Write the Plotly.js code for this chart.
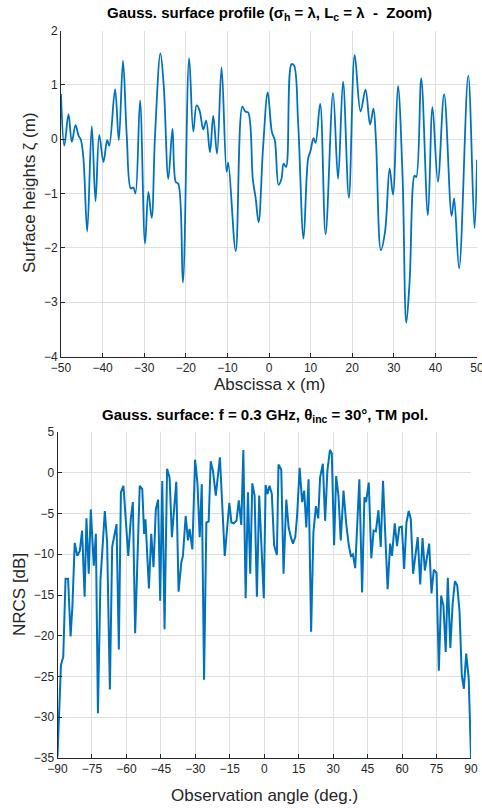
<!DOCTYPE html>
<html>
<head>
<meta charset="utf-8">
<script src="https://cdn.plot.ly/plotly-3.0.1.min.js"></script>
<style>html,body{margin:0;padding:0;background:#fff;}#chart{width:482px;height:808px;}</style>
</head>
<body>
<div id="chart"></div>
<script>
// ---- Top panel: surface profile ----
const profX = [-50, -49.2, -48.2, -47.4, -46.5, -45.8, -45.2, -44.6, -43.7, -42.6,
  -41.7, -40.8, -39.8, -38.9, -38.4, -37.0, -36.1, -35.1, -34.2, -33.2,
  -32.6, -32.1, -31.0, -29.8, -29.0, -28.2, -27.4, -26.1, -25.3, -24.2,
  -23.2, -22.4, -21.8, -20.7, -19.2, -18.2, -17.4, -16.7, -15.8, -15.1,
  -14.2, -13.4, -12.5, -11.4, -10.2, -9.8, -8.0, -6.4, -5.7, -5.0,
  -3.9, -3.2, -2.5, -1.4, -0.3, 0.7, 1.4, 2.3, 3.0, 3.5,
  4.1, 5.4, 6.0, 7.0, 8.3, 9.4, 10.0, 10.7, 11.2, 12.3,
  13.6, 15.4, 16.6, 17.8, 19.2, 20.6, 22.0, 23.2, 24.3, 25.1,
  25.7, 26.9, 27.9, 29.0, 29.8, 31.0, 32.1, 33.0, 33.8, 35.0,
  35.4, 36.6, 38.2, 39.3, 40.6, 42.1, 43.9, 44.5, 45.7, 47.9,
  49.4, 50];
const profH = [0.83, -0.12, 0.46, -0.05, 0.26, 0.07, -0.02, -0.36, -1.70, 0.24,
  -1.14, 0.08, -0.42, -0.02, -0.12, 0.92, -0.02, 1.44, 0.07, -0.91,
  -0.89, -1.00, 0.71, -1.92, -0.97, -1.45, 0.07, 1.58, 0.98, -0.73,
  0.19, -0.79, -0.82, -2.64, 1.49, 0.14, 0.62, 0.53, 0.18, 0.34,
  -0.24, 0.43, -0.27, 1.32, -0.60, -0.43, -2.06, 0.60, 0.51, 0.49,
  -0.73, -1.09, -1.53, -0.12, 0.86, 0.13, -0.02, -0.84, -0.73, -0.45,
  -0.51, 1.38, 1.36, 0.31, -1.83, -0.36, -0.21, 0.02, -0.07, 0.65,
  -1.75, 0.85, -0.73, 1.06, -1.08, 1.55, 0.51, 0.91, 0.27, 0.56,
  0.00, -2.04, -1.70, -0.54, -1.02, 0.98, -0.67, -3.38, -2.62, -0.67,
  -0.70, 1.12, -1.40, 0.59, -0.78, 0.83, -1.41, -1.09, -2.38, 1.17,
  -1.64, -0.38];
const profXTicks = [-50, -40, -30, -20, -10, 0, 10, 20, 30, 40, 50];
const profYTicks = [-4, -3, -2, -1, 0, 1, 2];

// ---- Bottom panel: NRCS ----
const angDeg = [-90, -89.4, -88.5, -87.5, -86.5, -85.4, -84.3, -83.5, -82.5, -81.4,
  -80.3, -79.3, -78.2, -77.4, -76.4, -75.5, -74.2, -73.3, -72.4, -71.3,
  -69.4, -68.4, -67.2, -66.2, -64.3, -63.3, -62.4, -61.3, -59.2, -58.1,
  -57.2, -56.2, -54.2, -53.1, -52.3, -51.7, -50.2, -49.2, -48.2, -47.2,
  -46.2, -45.3, -44.4, -43.4, -42.3, -41.2, -40.2, -38.3, -37.3, -36.1,
  -35.4, -34.2, -33.2, -32.5, -31.3, -30.1, -29.1, -28.1, -27.2, -26.2,
  -25.2, -24.2, -23.3, -22.3, -21.1, -19.3, -17.2, -15.2, -14.3, -13.3,
  -12.1, -11.1, -10.0, -9.1, -8.1, -7.1, -6.1, -5.2, -4.2, -3.2,
  -2.2, -0.2, 0.6, 1.4, 2.3, 3.3, 4.3, 5.5, 6.2, 7.4,
  8.4, 9.6, 10.6, 11.6, 12.5, 13.5, 14.3, 15.4, 16.5, 17.4,
  18.3, 19.3, 20.4, 21.4, 22.5, 23.5, 24.3, 25.5, 26.5, 27.5,
  28.6, 29.4, 30.4, 31.3, 32.3, 33.3, 34.5, 35.7, 36.8, 37.7,
  38.6, 39.6, 41.4, 42.6, 43.6, 44.3, 45.5, 46.6, 47.6, 48.6,
  49.7, 50.7, 51.7, 52.7, 53.7, 54.8, 55.6, 56.8, 57.8, 58.8,
  59.9, 60.9, 61.9, 62.9, 63.8, 64.8, 65.8, 66.8, 67.9, 68.9,
  69.9, 70.9, 71.8, 72.8, 73.8, 75.0, 76.0, 77.0, 78.0, 79.0,
  79.9, 81.0, 82.0, 83.0, 84.0, 85.0, 86.0, 86.9, 87.9, 89.0,
  90];
const nrcsDb = [-34.8, -29.7, -23.6, -22.6, -13.0, -13.0, -20.1, -16.3, -8.6, -10.2,
  -9.6, -7.1, -15.2, -5.6, -12.4, -4.5, -11.4, -7.5, -29.5, -13.2,
  -4.7, -8.5, -26.6, -9.1, -6.3, -21.7, -2.4, -1.6, -10.2, -5.7,
  -3.6, -19.7, -1.6, -2.0, -7.5, -5.7, -14.2, -7.5, -11.6, -4.5,
  -3.3, -15.7, -1.0, -19.2, 0.5, -0.6, -7.9, -1.1, -14.6, -11.0,
  -10.2, -5.3, -8.3, -6.9, -9.4, 1.6, -1.2, -7.9, -1.4, -25.4,
  -6.1, -6.0, 1.4, 0.2, -2.8, 1.9, -10.2, -3.7, -6.1, -6.2,
  -5.9, -3.4, -6.4, 2.8, -15.4, -2.4, -12.4, -1.3, -2.8, -15.2,
  -2.8, -15.4, -1.5, -2.6, -1.6, -2.6, -8.9, -10.1, 1.0, 0.4,
  -12.4, -3.3, -6.7, -7.9, -8.7, -7.9, -5.3, 0.6, -3.6, -2.2,
  -6.7, -0.8, -19.5, -7.3, -4.1, -5.6, -0.6, 1.1, -5.9, 0.3,
  2.8, 2.4, -8.9, -0.4, -2.8, -8.3, -2.2, -6.3, -8.9, -10.2,
  -10.0, -11.7, -0.8, -14.7, -3.0, -3.6, -1.2, -10.5, -7.1, -7.2,
  -4.6, -9.1, -1.0, -7.7, -14.3, -8.7, -10.2, -6.2, -9.0, -6.7,
  -6.6, -11.8, -6.1, -4.7, -5.7, -12.4, -10.0, -7.9, -13.7, -8.0,
  -12.0, -10.0, -8.7, -14.8, -11.9, -12.3, -24.3, -15.1, -16.3, -22.0,
  -12.9, -21.5, -16.1, -13.3, -13.8, -17.0, -24.9, -26.5, -22.2, -25.2,
  -35.0];
const angTicks = [-90, -75, -60, -45, -30, -15, 0, 15, 30, 45, 60, 75, 90];
const nrcsTicks = [-35, -30, -25, -20, -15, -10, -5, 0, 5];

const W = 482, H = 808;
const px = v => v / W;
const py = v => 1 - v / H;
const lineColor = '#0072BD';
const axisCol = '#262626';
const gridCol = '#dfdfdf';
const FONT = 'Liberation Sans, Arial, Helvetica, sans-serif';

const traces = [
  {x: profX, y: profH, type: 'scatter', mode: 'lines', xaxis: 'x', yaxis: 'y',
   line: {color: lineColor, width: 1.8, shape: 'spline', smoothing: 1.0}, hoverinfo: 'skip'},
  {x: angDeg, y: nrcsDb, type: 'scatter', mode: 'lines', xaxis: 'x2', yaxis: 'y2',
   line: {color: lineColor, width: 2}, hoverinfo: 'skip'}
];

function ax(extra) {
  return Object.assign({
    showgrid: true, gridcolor: gridCol, gridwidth: 1,
    zeroline: false, showline: true, linecolor: axisCol, linewidth: 1,
    ticks: 'inside', ticklen: 4, tickcolor: axisCol,
    tickfont: {family: FONT, size: 12, color: axisCol},
    ticklabeloverflow: 'allow',
    fixedrange: true, mirror: false
  }, extra);
}

const layout = {
  width: W, height: H,
  margin: {l: 0, r: 0, t: 0, b: 0},
  paper_bgcolor: '#ffffff', plot_bgcolor: '#ffffff',
  showlegend: false,
  xaxis: ax({domain: [px(61), px(477)], range: [-50, 50], tickvals: profXTicks, anchor: 'y'}),
  yaxis: ax({domain: [py(356.5), py(30.5)], range: [-4, 2], tickvals: profYTicks, anchor: 'x'}),
  xaxis2: ax({domain: [px(57.5), px(471)], range: [-90, 90], tickvals: angTicks, anchor: 'y2'}),
  yaxis2: ax({domain: [py(758), py(432)], range: [-35, 5], tickvals: nrcsTicks, anchor: 'x2'}),
  annotations: [
    {text: '<b>Gauss. surface profile (σ<sub>h</sub> = λ, L<sub>c</sub> = λ  -  Zoom)</b>',
     x: px(269), y: py(13), xref: 'paper', yref: 'paper', showarrow: false,
     xanchor: 'center', yanchor: 'middle', font: {family: FONT, size: 15, color: '#000'}},
    {text: 'Abscissa x (m)', x: px(269), y: py(384), xref: 'paper', yref: 'paper', showarrow: false,
     xanchor: 'center', yanchor: 'middle', font: {family: FONT, size: 17, color: axisCol}},
    {text: 'Surface heights ζ (m)', x: px(29), y: py(193), xref: 'paper', yref: 'paper', showarrow: false,
     textangle: -90, xanchor: 'center', yanchor: 'middle', font: {family: FONT, size: 17, color: axisCol}},
    {text: '<b>Gauss. surface: f = 0.3 GHz, θ<sub>inc</sub> = 30°, TM pol.</b>',
     x: px(264.5), y: py(415), xref: 'paper', yref: 'paper', showarrow: false,
     xanchor: 'center', yanchor: 'middle', font: {family: FONT, size: 15, color: '#000'}},
    {text: 'Observation angle (deg.)', x: px(264), y: py(795), xref: 'paper', yref: 'paper', showarrow: false,
     xanchor: 'center', yanchor: 'middle', font: {family: FONT, size: 17, color: axisCol}},
    {text: 'NRCS [dB]', x: px(19), y: py(595), xref: 'paper', yref: 'paper', showarrow: false,
     textangle: -90, xanchor: 'center', yanchor: 'middle', font: {family: FONT, size: 17, color: axisCol}}
  ]
};

Plotly.newPlot('chart', traces, layout, {displayModeBar: false, staticPlot: true});
</script>
</body>
</html>
